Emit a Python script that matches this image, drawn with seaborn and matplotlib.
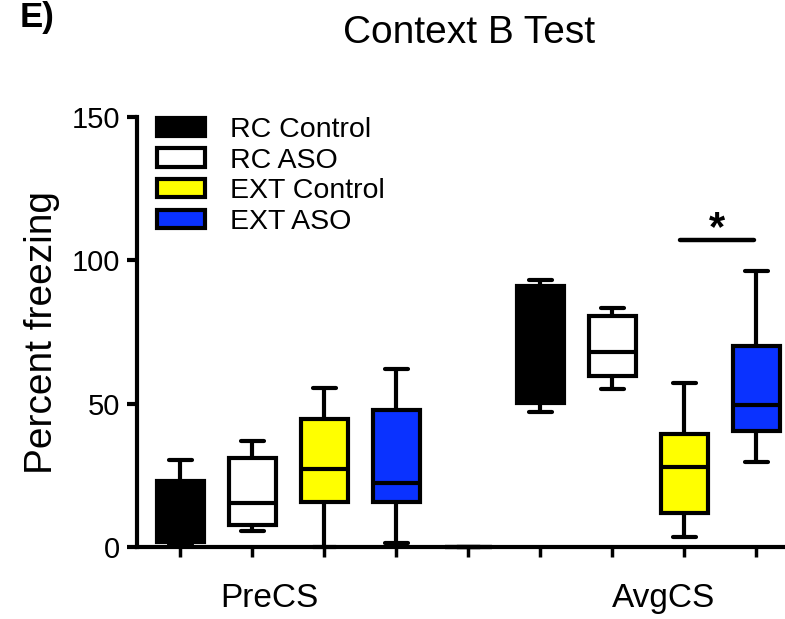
import matplotlib

matplotlib.use("Agg")

import matplotlib.pyplot as plt
import numpy as np
import pandas as pd
import seaborn as sns
from matplotlib.patches import Patch
from matplotlib.ticker import FixedLocator


# Five-number summaries: [min, q1, median, q3, max]
PERIODS = ["PreCS", "AvgCS"]
GROUPS = ["RC Control", "RC ASO", "EXT Control", "EXT ASO"]
GROUP_COLORS = ["#000000", "#ffffff", "#ffff00", "#0a32ff"]

PRECS_RC_CONTROL = [0.7, 1.8, 8.0, 23.1, 30.3]
PRECS_RC_ASO = [5.6, 7.7, 15.5, 30.9, 37.0]
PRECS_EXT_CONTROL = [0.0, 15.8, 27.1, 44.5, 55.3]
PRECS_EXT_ASO = [1.5, 15.8, 22.4, 47.8, 62.0]

AVGCS_RC_CONTROL = [47.2, 50.3, 68.1, 91.0, 93.1]
AVGCS_RC_ASO = [55.1, 59.8, 68.1, 80.6, 83.2]
AVGCS_EXT_CONTROL = [3.6, 12.0, 27.8, 39.4, 57.1]
AVGCS_EXT_ASO = [29.8, 40.6, 49.5, 70.1, 96.4]

# empty column between the two periods, drawn as a flat mark at zero
SPACER = [0.0, 0.0, 0.0, 0.0, 0.0]

Y_TICKS = [0, 50, 100, 150]
SIG_BAR_Y = 107

LINE_WIDTH = 3.0


def build_frame() -> tuple[pd.DataFrame, list, dict]:
    """
    Long-form table with one row per value, one slot per box.
    """
    columns = [
        ("PreCS RC Control", PRECS_RC_CONTROL, GROUP_COLORS[0]),
        ("PreCS RC ASO", PRECS_RC_ASO, GROUP_COLORS[1]),
        ("PreCS EXT Control", PRECS_EXT_CONTROL, GROUP_COLORS[2]),
        ("PreCS EXT ASO", PRECS_EXT_ASO, GROUP_COLORS[3]),
        ("gap", SPACER, "#000000"),
        ("AvgCS RC Control", AVGCS_RC_CONTROL, GROUP_COLORS[0]),
        ("AvgCS RC ASO", AVGCS_RC_ASO, GROUP_COLORS[1]),
        ("AvgCS EXT Control", AVGCS_EXT_CONTROL, GROUP_COLORS[2]),
        ("AvgCS EXT ASO", AVGCS_EXT_ASO, GROUP_COLORS[3]),
    ]

    rows = []
    for slot, values, _ in columns:
        for value in values:
            rows.append({"slot": slot, "value": value})

    order = [name for name, _, _ in columns]
    palette = {name: color for name, _, color in columns}

    return pd.DataFrame(rows), order, palette


df, slot_order, palette = build_frame()

sns.set_style("ticks")
plt.rcParams["font.family"] = ["Liberation Sans", "DejaVu Sans"]
plt.rcParams["text.color"] = "black"
plt.rcParams["axes.labelcolor"] = "black"
plt.rcParams["xtick.color"] = "black"
plt.rcParams["ytick.color"] = "black"
plt.rcParams["axes.edgecolor"] = "black"

fig = plt.figure(figsize=(7.85, 6.19), dpi=100)
ax = fig.add_axes([137 / 785, 1 - 547 / 619, 648 / 785, 430 / 619])

sns.boxplot(
    data=df,
    x="slot",
    y="value",
    hue="slot",
    order=slot_order,
    hue_order=slot_order,
    palette=palette,
    legend=False,
    width=0.65,
    whis=(0, 100),
    linecolor="black",
    linewidth=LINE_WIDTH,
    fliersize=0,
    saturation=1,
    ax=ax,
)

for artist in ax.lines + ax.patches:
    artist.set_clip_on(False)

# significance bar over the AvgCS EXT pair
ext_ctrl = slot_order.index("AvgCS EXT Control")
ext_aso = slot_order.index("AvgCS EXT ASO")
ax.plot(
    [ext_ctrl - 0.06, ext_aso - 0.03],
    [SIG_BAR_Y, SIG_BAR_Y],
    color="black",
    lw=3.2,
    solid_capstyle="round",
    clip_on=False,
)
ax.text(
    (ext_ctrl + ext_aso) / 2 - 0.05,
    SIG_BAR_Y - 3,
    "*",
    ha="center",
    va="bottom",
    fontsize=30,
    fontweight="bold",
)

ax.set_ylim(0, 150)
ax.set_xlim(-0.6, 8.4)
ax.set_yticks(Y_TICKS)
ax.set_yticklabels([str(t) for t in Y_TICKS])

# small ticks under every box, group names between them
ax.xaxis.set_minor_locator(FixedLocator(np.arange(len(slot_order))))
ax.set_xticks([1.24, 6.71])
ax.set_xticklabels(PERIODS)
ax.tick_params(axis="x", which="major", length=0, pad=26, labelsize=24)
ax.tick_params(axis="x", which="minor", length=7, width=2.5, color="black")
ax.tick_params(axis="y", length=7, width=3, pad=5, labelsize=21, color="black")

ax.set_xlabel("")
ax.set_ylabel("Percent freezing", fontsize=28)
ax.yaxis.set_label_coords(-0.119, 0.5)

sns.despine(ax=ax)
ax.spines["left"].set_linewidth(3)
ax.spines["bottom"].set_linewidth(3)
ax.spines["left"].set_bounds(0, 150)

handles = [
    Patch(facecolor=color, edgecolor="black", linewidth=LINE_WIDTH, label=name)
    for name, color in zip(GROUPS, GROUP_COLORS)
]
ax.legend(
    handles=handles,
    loc="upper left",
    bbox_to_anchor=(157 / 785, 1 - 117 / 619),
    bbox_transform=fig.transFigure,
    frameon=False,
    fontsize=20.5,
    handlelength=1.7,
    handleheight=0.6,
    handletextpad=0.85,
    labelspacing=0.16,
    borderpad=0,
    borderaxespad=0,
)

fig.text(469 / 785, 1 - 43 / 619, "Context B Test", ha="center", va="baseline", fontsize=28)
fig.text(20 / 785, 1 - 1 / 619, "E)", ha="left", va="top", fontsize=25, fontweight="bold")

fig.savefig("out.png", dpi=100)
plt.close(fig)
